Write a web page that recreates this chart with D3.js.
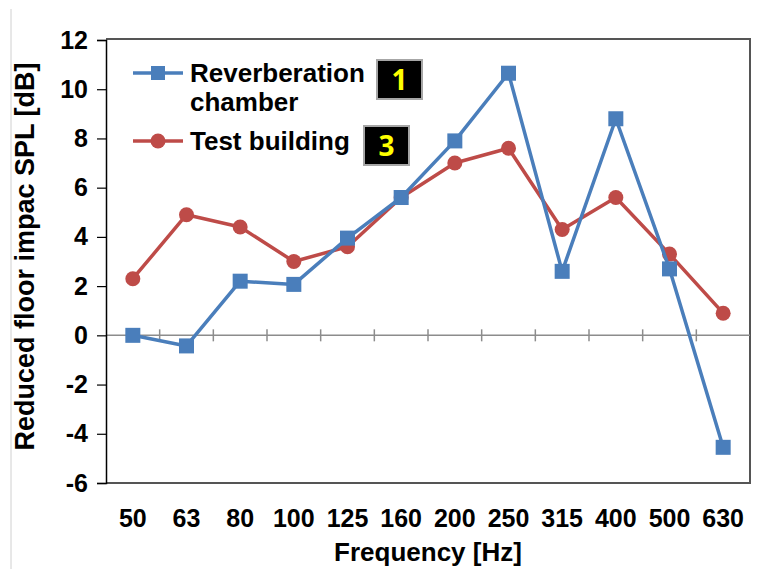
<!DOCTYPE html>
<html><head><meta charset="utf-8">
<script src="https://cdn.jsdelivr.net/npm/d3@7"></script>
<style>body{margin:0;background:#fff;} svg{display:block;}</style>
</head><body>
<svg id="c" width="757" height="569"></svg>
<script>
const categories = ["50","63","80","100","125","160","200","250","315","400","500","630"];
const reverberation = [0.0,-0.43,2.2,2.07,3.95,5.6,7.9,10.65,2.6,8.8,2.7,-4.55];
const testBuilding = [2.3,4.9,4.4,3.0,3.6,5.6,7.0,7.6,4.3,5.6,3.3,0.9];
const yTicks = [-6,-4,-2,0,2,4,6,8,10,12];
const seriesNames = ["Reverberation","chamber","Test building"];
const badges = ["1","3"];

const svg = d3.select("#c");
const L=106, R=750, T=40, B=483;
const font = "'Liberation Sans', Arial, sans-serif";
const x = d3.scaleBand().domain(categories).range([L,R]).padding(0);
const y = d3.scaleLinear().domain([-6,12]).range([B,T]);
const cx = d => x(d) + x.bandwidth()/2;

// outer light border line
svg.append("line").attr("x1",11).attr("x2",11).attr("y1",9).attr("y2",569)
  .attr("stroke","#d0d0d0").attr("stroke-width",1);

// plot border (top, right, bottom)
svg.append("path").attr("d",`M${L},${T-1}H${R}V${B}H${L}`)
  .attr("fill","none").attr("stroke","#555").attr("stroke-width",2);

// zero line with category ticks
svg.append("line").attr("x1",L).attr("x2",R).attr("y1",y(0)).attr("y2",y(0))
  .attr("stroke","#8c8c8c").attr("stroke-width",1.5);
svg.selectAll(".xt").data(categories.slice(1)).enter().append("line")
  .attr("x1",d=>x(d)).attr("x2",d=>x(d)).attr("y1",y(0)-6).attr("y2",y(0)+6)
  .attr("stroke","#8c8c8c").attr("stroke-width",1.5);

// y axis
const ya = svg.append("g").attr("transform",`translate(${L},0)`)
  .call(d3.axisLeft(y).tickValues(yTicks).tickSize(9).tickPadding(9).tickFormat(d=>String(d)));
ya.select(".domain").attr("stroke","#000").attr("stroke-width",1.5);
ya.selectAll(".tick line").attr("stroke","#000").attr("stroke-width",1.2);
ya.selectAll(".tick text").attr("font-family",font).attr("font-weight","bold")
  .attr("font-size",25).attr("fill","#000");

// x tick labels
svg.selectAll(".xl").data(categories).enter().append("text")
  .attr("x",d=>cx(d)).attr("y",527).attr("text-anchor","middle")
  .attr("font-family",font).attr("font-weight","bold").attr("font-size",25)
  .text(d=>d);

// axis titles
svg.append("text").attr("x",(L+R)/2).attr("y",561).attr("text-anchor","middle")
  .attr("font-family",font).attr("font-weight","bold").attr("font-size",26)
  .text("Frequency [Hz]");
svg.append("text").attr("transform",`translate(34,${(T+B)/2-5}) rotate(-90)`)
  .attr("text-anchor","middle")
  .attr("font-family",font).attr("font-weight","bold").attr("font-size",27)
  .text("Reduced floor impac SPL [dB]");

const blue = "#4a7ebb", red = "#be4b48";
const line = d3.line().x((d,i)=>cx(categories[i])).y(d=>y(d));

// red series
svg.append("path").datum(testBuilding).attr("d",line)
  .attr("fill","none").attr("stroke",red).attr("stroke-width",3.5).attr("stroke-linejoin","round");
svg.selectAll(".rc").data(testBuilding).enter().append("circle")
  .attr("cx",(d,i)=>cx(categories[i])).attr("cy",d=>y(d)).attr("r",7.5).attr("fill",red);

// blue series
svg.append("path").datum(reverberation).attr("d",line)
  .attr("fill","none").attr("stroke",blue).attr("stroke-width",3.5).attr("stroke-linejoin","round");
svg.selectAll(".bs").data(reverberation).enter().append("rect")
  .attr("x",(d,i)=>cx(categories[i])-7.5).attr("y",d=>y(d)-7.5)
  .attr("width",15).attr("height",15).attr("fill",blue);

// legend
const lg = svg.append("g");
lg.append("line").attr("x1",133).attr("x2",183).attr("y1",73).attr("y2",73).attr("stroke",blue).attr("stroke-width",3.5);
lg.append("rect").attr("x",151).attr("y",66).attr("width",14).attr("height",14).attr("fill",blue);
lg.append("text").attr("x",190).attr("y",82).attr("font-family",font).attr("font-weight","bold").attr("font-size",26).text(seriesNames[0]);
lg.append("text").attr("x",190).attr("y",111).attr("font-family",font).attr("font-weight","bold").attr("font-size",26).text(seriesNames[1]);
lg.append("line").attr("x1",133).attr("x2",183).attr("y1",141).attr("y2",141).attr("stroke",red).attr("stroke-width",3.5);
lg.append("circle").attr("cx",158).attr("cy",141).attr("r",7.5).attr("fill",red);
lg.append("text").attr("x",190).attr("y",150).attr("font-family",font).attr("font-weight","bold").attr("font-size",26).text(seriesNames[2]);

// badges
const badgePos = [{x:377,y:60,w:45,h:39},{x:364,y:126,w:45,h:39}];
badges.forEach((b,i)=>{
  const p = badgePos[i];
  svg.append("rect").attr("x",p.x).attr("y",p.y).attr("width",p.w).attr("height",p.h)
    .attr("fill","#000").attr("stroke","#a6a6a6").attr("stroke-width",2);
  svg.append("text").attr("x",p.x+p.w/2).attr("y",p.y+p.h/2+10).attr("text-anchor","middle")
    .attr("font-family","'Open Sans', 'Noto Sans', sans-serif").attr("font-weight","bold").attr("font-size",28)
    .attr("fill","#ffff00").text(b);
});
</script>
</body></html>
